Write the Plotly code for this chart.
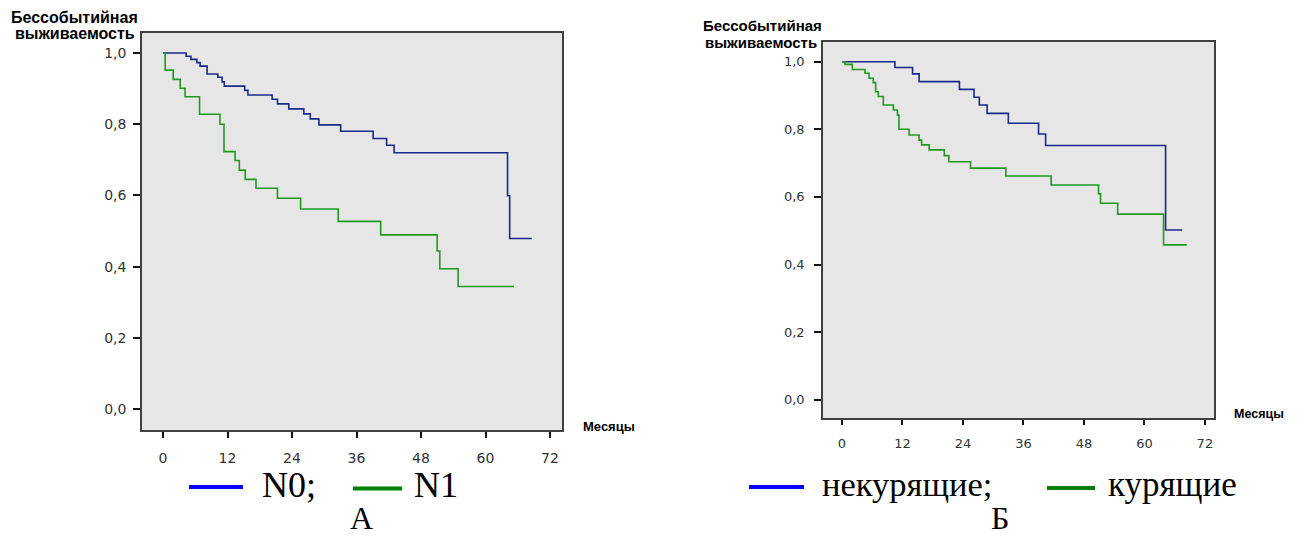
import plotly.graph_objects as go

# ---------------- data ----------------
# Panel A: N0 / N1
n0_time = [0, 4.3, 5.2, 6.3, 6.9, 8.2, 10.2, 11.0, 11.4, 15.2, 15.8, 20.3, 21.3, 23.4,
           26.2, 27.4, 29.0, 33.05, 39.1, 41.6, 43.0, 64.1, 64.5]
n0_surv = [1.0, 0.991, 0.982, 0.973, 0.963, 0.941, 0.932, 0.919, 0.907, 0.895, 0.882,
           0.870, 0.857, 0.843, 0.829, 0.815, 0.798, 0.780, 0.760, 0.741, 0.720, 0.599, 0.479]
n0_end = 68.6

n1_time = [0, 0.4, 1.9, 3.2, 4.1, 6.8, 10.6, 11.35, 13.4, 14.2, 15.3, 17.3, 21.3, 25.6,
           32.6, 40.5, 51.0, 51.5, 54.9]
n1_surv = [1.0, 0.952, 0.926, 0.901, 0.877, 0.828, 0.800, 0.723, 0.698, 0.671, 0.645,
           0.620, 0.592, 0.562, 0.527, 0.489, 0.444, 0.394, 0.344]
n1_end = 65.3

# Panel Б: non-smokers / smokers
ns_time = [0, 10.5, 14.0, 15.3, 23.3, 26.2, 27.25, 28.8, 33.0, 39.0, 40.4, 64.2]
ns_surv = [1.0, 0.983, 0.964, 0.941, 0.918, 0.895, 0.872, 0.847, 0.818, 0.786, 0.752, 0.502]
ns_end = 67.5

sm_time = [0, 0.6, 2.05, 4.56, 5.36, 6.2, 6.68, 7.2, 8.2, 10.2, 11.0, 11.3, 13.3, 15.3,
           15.8, 17.3, 20.3, 21.2, 25.5, 32.5, 41.5, 50.9, 51.3, 54.7, 63.8]
sm_surv = [1.0, 0.992, 0.977, 0.966, 0.951, 0.938, 0.911, 0.897, 0.872, 0.857, 0.842,
           0.800, 0.783, 0.768, 0.754, 0.739, 0.722, 0.704, 0.685, 0.662, 0.635, 0.609,
           0.581, 0.549, 0.458]
sm_end = 68.4

x_ticks = [0, 12, 24, 36, 48, 60, 72]
y_ticks = [0.0, 0.2, 0.4, 0.6, 0.8, 1.0]
y_tick_text = ["0,0", "0,2", "0,4", "0,6", "0,8", "1,0"]

legend_a = ["N0;", "N1"]
legend_b = ["некурящие;", "курящие"]
panel_labels = ["А", "Б"]
y_title = ["Бессобытийная", "выживаемость"]
x_title = "Месяцы"

# ---------------- figure ----------------
W, H = 1301, 537
BLUE = "#1a2a8a"
GREEN = "#1f9a1f"


def px(x):
    return x / W


def py(y):
    return 1 - y / H


fig = go.Figure()


def km(t, s, end, color, xa, ya, name):
    fig.add_trace(go.Scatter(
        x=list(t) + [end], y=list(s) + [s[-1]], mode="lines", line_shape="hv",
        line=dict(color=color, width=1.6), xaxis=xa, yaxis=ya, name=name,
        showlegend=False, hoverinfo="skip"))


km(n0_time, n0_surv, n0_end, BLUE, "x", "y", legend_a[0])
km(n1_time, n1_surv, n1_end, GREEN, "x", "y", legend_a[1])
km(ns_time, ns_surv, ns_end, BLUE, "x2", "y2", legend_b[0])
km(sm_time, sm_surv, sm_end, GREEN, "x2", "y2", legend_b[1])

tickfont_a = dict(family="DejaVu Sans", size=14, color="#333333")
tickfont_b = dict(family="DejaVu Sans", size=13, color="#333333")

common_ax = dict(showgrid=False, zeroline=False, showline=True, mirror=True,
                 linecolor="#404040", linewidth=1.5, ticks="outside",
                 tickcolor="#111111", tickwidth=2)

fig.update_layout(
    width=W, height=H, margin=dict(l=0, r=0, t=0, b=0),
    paper_bgcolor="white", plot_bgcolor="#e6e6e6", showlegend=False,
    xaxis=dict(**common_ax, domain=[px(142), px(562)], anchor="y",
               range=[-(163 - 142) / 5.375, (562 - 163) / 5.375],
               tickvals=x_ticks, ticklen=6, tickfont=tickfont_a, ticklabelstandoff=8),
    yaxis=dict(**common_ax, domain=[py(430), py(33)], anchor="x",
               range=[-(430 - 409) / 356, (409 - 33) / 356],
               tickvals=y_ticks, ticktext=y_tick_text, ticklen=7, tickfont=tickfont_a,
               ticklabelstandoff=4),
    xaxis2=dict(**common_ax, domain=[px(823), px(1214)], anchor="y2",
                range=[-(842 - 823) / 5.04, (1214 - 842) / 5.04],
                tickvals=x_ticks, ticklen=5, tickfont=tickfont_b, ticklabelstandoff=8),
    yaxis2=dict(**common_ax, domain=[py(418), py(42)], anchor="x2",
                range=[-(418 - 399.7) / 338, (399.7 - 42) / 338],
                tickvals=y_ticks, ticktext=y_tick_text, ticklen=7, tickfont=tickfont_b,
                ticklabelstandoff=7),
)

ann = []
shapes = []


def text(x, y, s, size, family="Liberation Sans", bold=False, xanchor="center", color="black"):
    ann.append(dict(x=px(x), y=py(y), xref="paper", yref="paper", text=(f"<b>{s}</b>" if bold else s),
                    showarrow=False, xanchor=xanchor, yanchor="middle",
                    font=dict(family=family, size=size, color=color)))


# y-axis titles
text(74, 18, y_title[0], 16, bold=True)
text(74.5, 33.5, y_title[1], 16, bold=True)
text(762, 26, y_title[0], 15, bold=True)
text(761, 42, y_title[1], 15, bold=True)
# x-axis titles
text(608.5, 426, x_title, 13, bold=True)
text(1258.5, 414, x_title, 12.5, bold=True)

SERIF = "Liberation Serif"
# legends panel A
shapes.append(dict(type="line", xref="paper", yref="paper", x0=px(189), x1=px(243), y0=py(487), y1=py(487),
                   line=dict(color="#0000ff", width=4)))
shapes.append(dict(type="line", xref="paper", yref="paper", x0=px(353), x1=px(402), y0=py(488.5), y1=py(488.5),
                   line=dict(color="#008000", width=4)))
text(260, 485, legend_a[0], 36, family=SERIF, xanchor="left")
text(412, 485, legend_a[1], 36, family=SERIF, xanchor="left")
text(361, 518, panel_labels[0], 32, family=SERIF)
# legends panel Б
shapes.append(dict(type="line", xref="paper", yref="paper", x0=px(749), x1=px(804), y0=py(487), y1=py(487),
                   line=dict(color="#0000ff", width=4)))
shapes.append(dict(type="line", xref="paper", yref="paper", x0=px(1047), x1=px(1095), y0=py(488), y1=py(488),
                   line=dict(color="#008000", width=4)))
text(820, 484, legend_b[0], 34.5, family=SERIF, xanchor="left")
text(1106, 484, legend_b[1], 35, family=SERIF, xanchor="left")
text(1000, 518, panel_labels[1], 32, family=SERIF)

fig.update_layout(annotations=ann, shapes=shapes)
fig.write_html("out.html")
